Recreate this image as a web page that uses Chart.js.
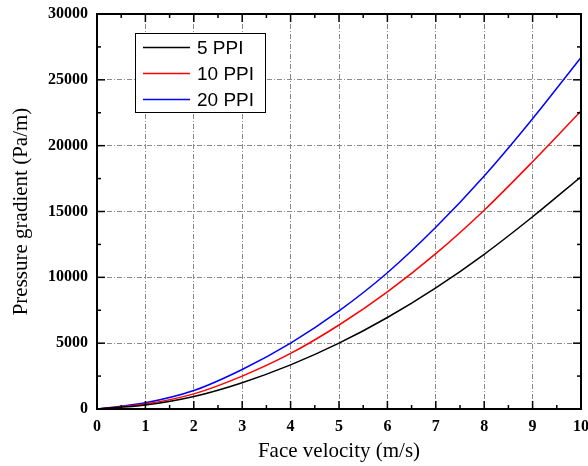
<!DOCTYPE html>
<html>
<head>
<meta charset="utf-8">
<script src="https://cdn.jsdelivr.net/npm/chart.js@4/dist/chart.umd.min.js"></script>
<style>
  html, body { margin: 0; padding: 0; background: #fff; }
  #wrap { width: 588px; height: 466px; position: relative; }
</style>
</head>
<body>
<div id="wrap"><canvas id="c" width="588" height="466"></canvas></div>
<script>
// Face velocity (m/s)
const velocity = [0, 1, 2, 3, 4, 5, 6, 7, 8, 9, 10];
// Pressure gradient (Pa/m) per foam pore density
const ppi5  = [0, 300, 950, 2000, 3350, 5000, 6950, 9200, 11750, 14600, 17640];
const ppi10 = [0, 380, 1150, 2500, 4220, 6380, 8900, 11800, 15100, 18780, 22630];
const ppi20 = [0, 470, 1400, 3000, 5000, 7450, 10350, 13800, 17700, 22050, 26700];
const seriesNames = ['5 PPI', '10 PPI', '20 PPI'];
const xTicks = [0, 1, 2, 3, 4, 5, 6, 7, 8, 9, 10];
const yTicks = [0, 5000, 10000, 15000, 20000, 25000, 30000];

const pts = arr => velocity.map((v, i) => ({ x: v, y: arr[i] }));
const colors = ['#000000', '#ff0000', '#0000ff'];
const datasets = [ppi5, ppi10, ppi20].map((arr, i) => ({
  label: seriesNames[i],
  data: pts(arr),
  borderColor: colors[i],
  backgroundColor: colors[i],
  borderWidth: 1.5,
  pointRadius: 0,
  cubicInterpolationMode: 'monotone',
  fill: false
}));

// Box frame with inward major/minor ticks on all four sides, plus inset legend
const framePlugin = {
  id: 'frame',
  afterDatasetsDraw(chart) {
    const { ctx, chartArea: a, scales: { x, y } } = chart;
    ctx.save();
    ctx.strokeStyle = '#000';
    ctx.lineWidth = 1.5;
    const seg = (x1, y1, x2, y2) => { ctx.beginPath(); ctx.moveTo(x1, y1); ctx.lineTo(x2, y2); ctx.stroke(); };
    xTicks.forEach((v, i) => {
      const px = x.getPixelForValue(v);
      seg(px, a.bottom, px, a.bottom - 8);
      seg(px, a.top, px, a.top + 8);
      if (i < xTicks.length - 1) {
        const mx = x.getPixelForValue((v + xTicks[i + 1]) / 2);
        seg(mx, a.bottom, mx, a.bottom - 4);
        seg(mx, a.top, mx, a.top + 4);
      }
    });
    yTicks.forEach((v, i) => {
      const py = y.getPixelForValue(v);
      seg(a.left, py, a.left + 8, py);
      seg(a.right, py, a.right - 8, py);
      if (i < yTicks.length - 1) {
        const my = y.getPixelForValue((v + yTicks[i + 1]) / 2);
        seg(a.left, my, a.left + 4, my);
        seg(a.right, my, a.right - 4, my);
      }
    });
    ctx.lineWidth = 2;
    ctx.strokeRect(a.left, a.top, a.right - a.left, a.bottom - a.top);

    // legend
    const bx = 135, by = 33, bw = 130, bh = 79;
    ctx.fillStyle = '#fff';
    ctx.fillRect(bx, by, bw, bh);
    ctx.lineWidth = 1;
    ctx.strokeStyle = '#000';
    ctx.strokeRect(bx + 0.5, by + 0.5, bw, bh);
    ctx.font = '19px "Liberation Sans", Arial, sans-serif';
    ctx.textBaseline = 'middle';
    ctx.textAlign = 'left';
    chart.data.datasets.forEach((ds, i) => {
      const ly = 47.5 + i * 26;
      ctx.strokeStyle = ds.borderColor;
      ctx.lineWidth = 1.5;
      seg(143, ly, 190, ly);
      ctx.fillStyle = '#000';
      ctx.fillText(ds.label, 197, ly + 1);
    });
    ctx.restore();
  }
};

const tickFont = { family: '"Liberation Serif", "Times New Roman", serif', size: 16, weight: 'bold' };
const titleFont = { family: '"Liberation Serif", "Times New Roman", serif', size: 21, weight: 'normal' };
const plain = v => String(v);

new Chart(document.getElementById('c'), {
  type: 'line',
  data: { datasets },
  options: {
    responsive: false,
    animation: false,
    events: [],
    layout: { padding: { top: 14, right: 7, left: 0, bottom: 0 } },
    plugins: { legend: { display: false }, tooltip: { enabled: false } },
    scales: {
      x: {
        type: 'linear',
        min: 0, max: 10,
        afterBuildTicks: s => { s.ticks = xTicks.map(v => ({ value: v })); },
        ticks: { color: '#000', font: tickFont, padding: 8, maxRotation: 0, callback: plain },
        grid: { color: '#8a8a8a', lineWidth: 1, drawTicks: false },
        border: { display: false, dash: [5, 2, 1, 2] },
        title: { display: true, text: 'Face velocity (m/s)', color: '#000', font: titleFont, padding: { top: 0, bottom: 2 } },
        afterFit: s => { s.height = 57; s.paddingLeft = 0; s.paddingRight = 0; }
      },
      y: {
        type: 'linear',
        min: 0, max: 30000,
        afterBuildTicks: s => { s.ticks = yTicks.map(v => ({ value: v })); },
        ticks: { color: '#000', font: tickFont, padding: 9, callback: plain },
        grid: { color: '#8a8a8a', lineWidth: 1, drawTicks: false },
        border: { display: false, dash: [5, 2, 1, 2] },
        title: { display: true, text: 'Pressure gradient (Pa/m)', color: '#000', font: titleFont, padding: { top: 9, bottom: 0 } },
        afterFit: s => { s.width = 97; s.paddingTop = 0; s.paddingBottom = 0; }
      }
    }
  },
  plugins: [framePlugin]
});
</script>
</body>
</html>
